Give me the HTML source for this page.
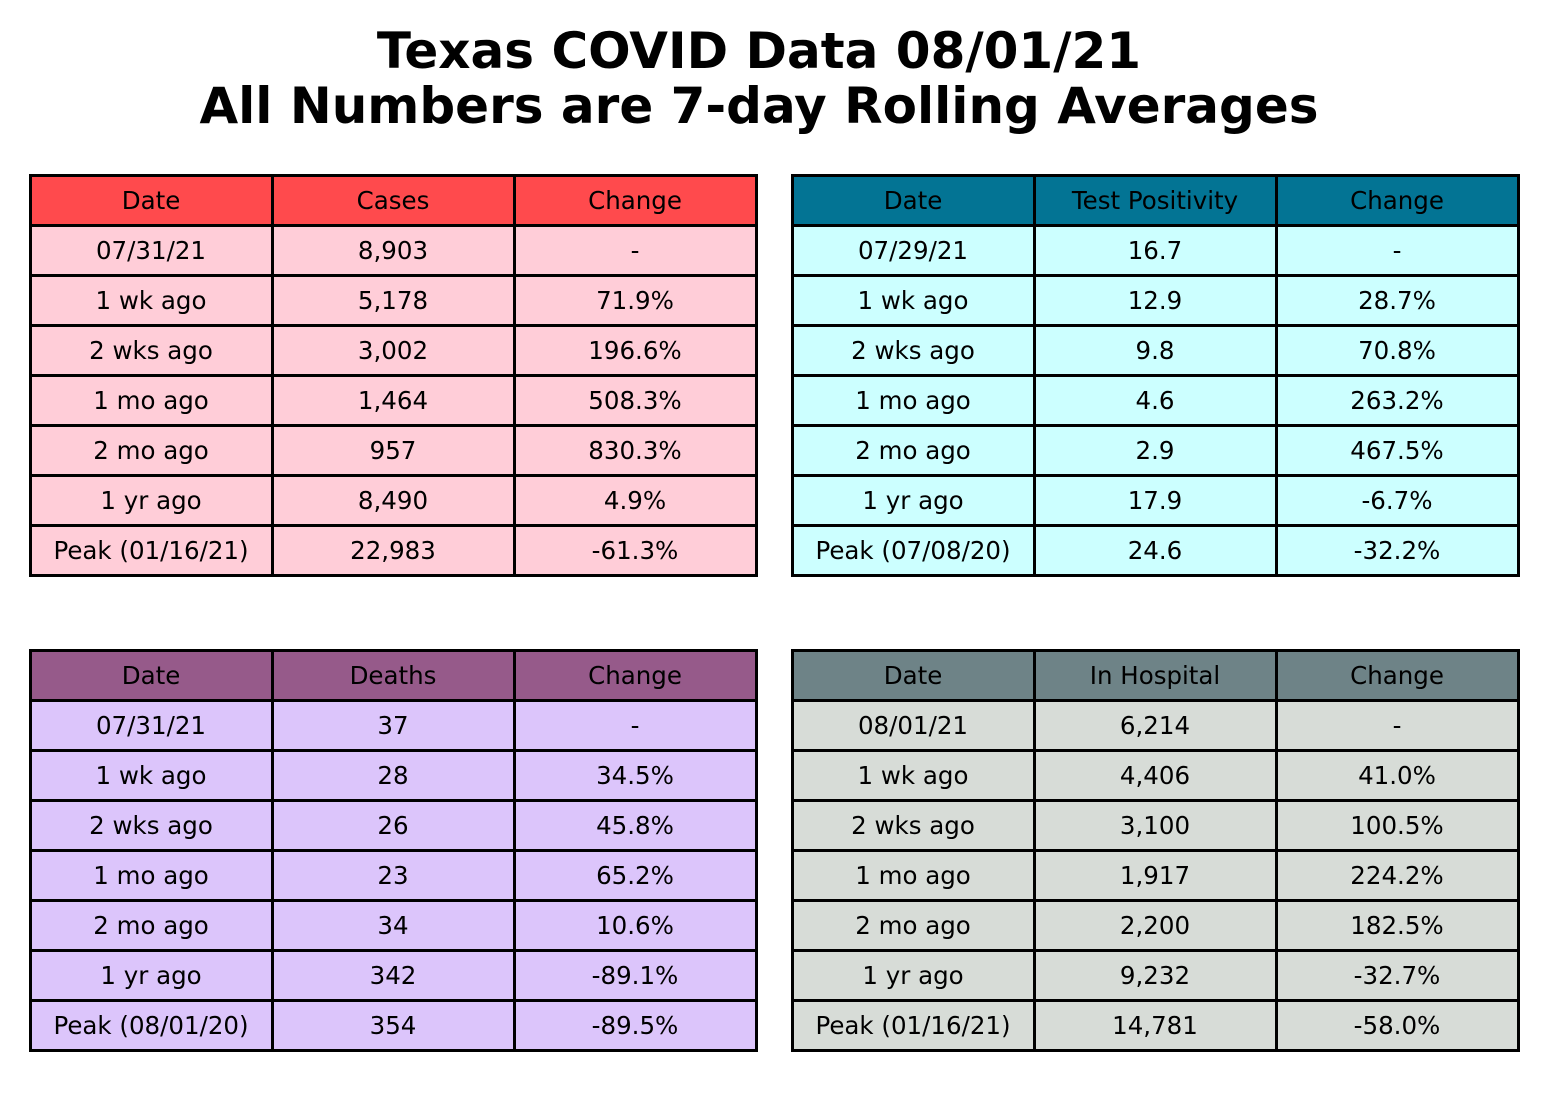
<!DOCTYPE html>
<html><head><meta charset="utf-8">
<style>
body{margin:0;width:1548px;height:1118px;background:#fff;position:relative;overflow:hidden;font-family:"DejaVu Sans","Liberation Sans",sans-serif;}
#title{position:absolute;left:0;width:1518px;top:24px;text-align:center;font-weight:bold;font-size:50px;line-height:55px;color:#000;}
.cell{position:absolute;box-sizing:border-box;border:3px solid #000;width:245px;height:53px;display:flex;align-items:center;justify-content:center;font-size:24.5px;color:#000;}
</style></head><body>
<div id="title">Texas COVID Data 08/01/21<br>All Numbers are 7-day Rolling Averages</div>
<script>
const rowLabelsA=["07/31/21","1 wk ago","2 wks ago","1 mo ago","2 mo ago","1 yr ago","Peak (01/16/21)"];
const casesVals=["8,903","5,178","3,002","1,464","957","8,490","22,983"];
const casesChg=["-","71.9%","196.6%","508.3%","830.3%","4.9%","-61.3%"];
const rowLabelsB=["07/29/21","1 wk ago","2 wks ago","1 mo ago","2 mo ago","1 yr ago","Peak (07/08/20)"];
const posVals=["16.7","12.9","9.8","4.6","2.9","17.9","24.6"];
const posChg=["-","28.7%","70.8%","263.2%","467.5%","-6.7%","-32.2%"];
const rowLabelsC=["07/31/21","1 wk ago","2 wks ago","1 mo ago","2 mo ago","1 yr ago","Peak (08/01/20)"];
const deathVals=["37","28","26","23","34","342","354"];
const deathChg=["-","34.5%","45.8%","65.2%","10.6%","-89.1%","-89.5%"];
const rowLabelsD=["08/01/21","1 wk ago","2 wks ago","1 mo ago","2 mo ago","1 yr ago","Peak (01/16/21)"];
const hospVals=["6,214","4,406","3,100","1,917","2,200","9,232","14,781"];
const hospChg=["-","41.0%","100.5%","224.2%","182.5%","-32.7%","-58.0%"];

function makeTable(name,x,y,metric,labels,vals,chg,hc,bc){
  const t=document.createElement('div');
  
  
  document.body.appendChild(t);
  const rows=[["Date",metric,"Change"]];
  labels.forEach((l,i)=>rows.push([l,vals[i],chg[i]]));
  rows.forEach((row,r)=>row.forEach((v,c)=>{
    const d=document.createElement('div');
    d.className='cell';
    
    
    d.textContent=v;
    d.style.left=(x+c*242-1.5)+'px';
    d.style.top=(y+r*50-1.5)+'px';
    d.style.background=r===0?hc:bc;
    t.appendChild(d);
  }));
}
makeTable('cases-table',30,175,'Cases',rowLabelsA,casesVals,casesChg,'#ff4a4d','#ffcdd8');
makeTable('test-positivity-table',792,175,'Test Positivity',rowLabelsB,posVals,posChg,'#037494','#ccffff');
makeTable('deaths-table',30,650,'Deaths',rowLabelsC,deathVals,deathChg,'#965a8a','#dcc5fb');
makeTable('hospital-table',792,650,'In Hospital',rowLabelsD,hospVals,hospChg,'#6e8387','#d7dcd7');
</script>
</body></html>
